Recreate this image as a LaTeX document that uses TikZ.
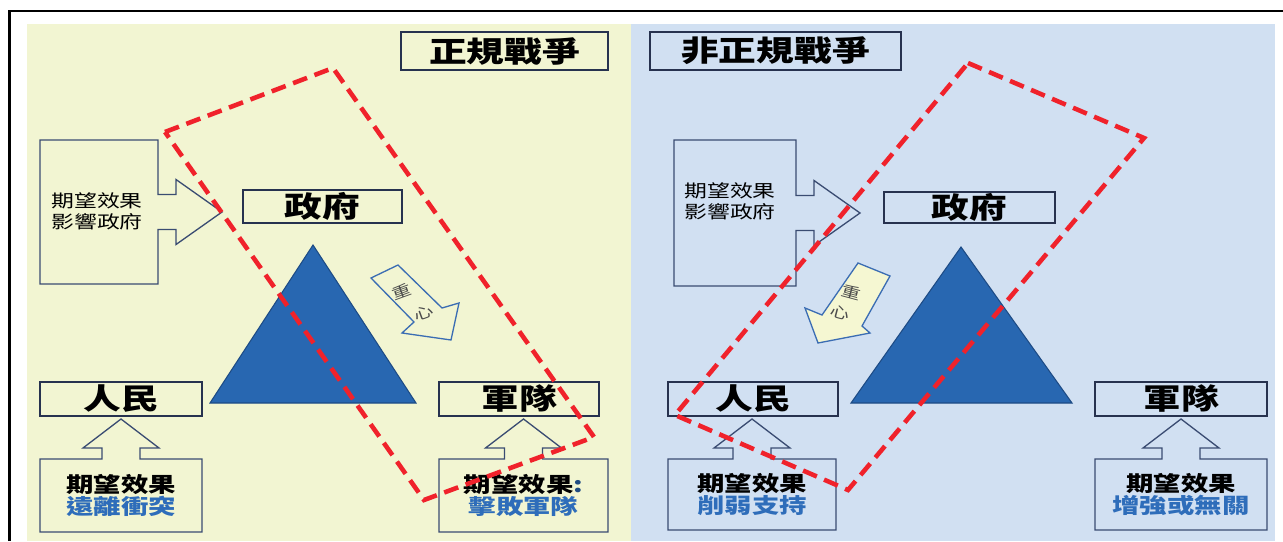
\documentclass[tikz,border=0pt]{standalone}
\usepackage{fontspec}
\setmainfont{Noto Sans CJK TC}[FakeStretch=1.3]
\usepackage{tikz}
\newcommand{\pxu}{0.02cm}
\newcommand{\namefont}{\fontsize{16.5pt}{18pt}\selectfont\bfseries}
\newcommand{\fxfont}{\fontsize{12pt}{13pt}\selectfont\bfseries}
\newcommand{\sidefont}{\fontsize{10pt}{12pt}\selectfont}
\newcommand{\cgfont}{\fontsize{8.5pt}{10pt}\selectfont}
\definecolor{paneyellow}{HTML}{F2F5D2}
\definecolor{paneblue}{HTML}{D1E0F2}
\definecolor{boxline}{HTML}{27324F}
\definecolor{arrowline}{HTML}{3A4C72}
\definecolor{cgline}{HTML}{3B6DB3}
\definecolor{cgfill}{HTML}{F5F7D2}
\definecolor{tribody}{HTML}{2867B1}
\definecolor{triedge}{HTML}{1D4B85}
\definecolor{focusred}{HTML}{F0222B}
\definecolor{fxblue}{HTML}{2E6DBA}
\tikzstyle{namebox}[160]=[draw=boxline, line width=0.85pt, inner sep=0, outer sep=0,
                          minimum width=#1*\pxu, minimum height=34*\pxu, font=\namefont]
\tikzstyle{effectbox}[160]=[inner sep=0, outer sep=0, minimum width=#1*\pxu,
                            minimum height=73*\pxu, align=center, font=\fxfont]
\tikzstyle{sidebox}[120]=[inner sep=0, outer sep=0, minimum width=#1*\pxu, minimum height=144*\pxu]
\tikzstyle{sidetext}=[inner sep=0, align=left, font=\sidefont]
\tikzstyle{callout}=[draw=arrowline, line width=0.75pt, line join=miter]
\tikzstyle{cgarrow}=[draw=cgline, line width=0.75pt]
\tikzstyle{cgtext}=[inner sep=0, font=\cgfont, text=black!70]
\tikzstyle{focus}=[draw=focusred, line width=2.6pt, dash pattern=on 8.5pt off 4.5pt]
\tikzstyle{triangle}=[fill=tribody, draw=triedge, line width=0.6pt]
% box with an arrow on its top side
\newcommand{\upcallout}[1]{%
  \draw[callout] (#1.north) ++(-19,0) -- ++(0,-11) -- ++(-19,0) -- ++(38,-29)
    -- ++(38,29) -- ++(-19,0) -- ++(0,11) -- (#1.north east) -- (#1.south east)
    -- (#1.south west) -- (#1.north west) -- cycle;}
% box with an arrow on its right side
\newcommand{\rightcallout}[1]{%
  \draw[callout] (#1.east) ++(0,-17.5) -- ++(18,0) -- ++(0,-15) -- ++(46,32.5)
    -- ++(-46,32.5) -- ++(0,-15) -- ++(-18,0) -- (#1.south east) -- (#1.south west)
    -- (#1.north west) -- (#1.north east) -- cycle;}
\begin{document}
\begin{tikzpicture}[x=\pxu, y=-\pxu]
    \useasboundingbox (0,0) rectangle (1283,541);
    \fill[paneyellow] (27,24) rectangle (631,541);
    \fill[paneblue] (631,24) rectangle (1275,541);
    \draw[line width=1.2pt] (9.5,541) -- (9.5,11) -- (1283,11);

    % regular war
    \path[triangle] (313,245) -- (416,403) -- (210,403) -- cycle;
    \node[namebox=207, minimum height=38*\pxu] (Ltitle) at (504.5,51) {正規戰爭};
    \node[namebox=159, minimum height=33*\pxu] (Lgov) at (322.5,206.5) {政府};
    \node[namebox=162] (Lpeople) at (121,399) {人民};
    \node[namebox=160] (Larmy) at (519,399) {軍隊};
    \node[effectbox=162] (Lpeoplefx) at (121,495.5) {期望效果\\\textcolor{fxblue}{遠離衝突}};
    \node[effectbox=169] (Larmyfx) at (523.5,495.5) {期望效果\textcolor{fxblue!70!black}{:}\\\textcolor{fxblue}{擊敗軍隊}};
    \node[sidebox=118] (Lgovfx) at (99,212) {};
    \node[sidetext, anchor=west] (Lgovtxt) at (51,211) {期望效果\\影響政府};
    \upcallout{Lpeoplefx}
    \upcallout{Larmyfx}
    \rightcallout{Lgovfx}
    \filldraw[cgarrow, fill=paneyellow] (371,278) -- (398,265) -- (442,308) -- (459,303)
        -- (451,340) -- (402,333) -- (414,322) -- cycle;
    \node[cgtext, rotate=20] (Lcg1) at (402,292) {重};
    \node[cgtext, rotate=20] (Lcg2) at (424,313) {心};
    \path[focus] (165,132) -- (333,68) -- (594,437) -- (424,500) -- cycle;

    % irregular war
    \path[triangle] (961,247) -- (1072,403) -- (851,403) -- cycle;
    \node[namebox=251, minimum height=38*\pxu] (Rtitle) at (775.5,51) {非正規戰爭};
    \node[namebox=171, minimum height=31*\pxu] (Rgov) at (969.5,207.5) {政府};
    \node[namebox=170] (Rpeople) at (753,399) {人民};
    \node[namebox=172] (Rarmy) at (1181,399) {軍隊};
    \node[effectbox=168, minimum height=71*\pxu] (Rpeoplefx) at (752,494.5) {期望效果\\\textcolor{fxblue}{削弱支持}};
    \node[effectbox=172, minimum height=71*\pxu] (Rarmyfx) at (1181,494.5) {期望效果\\\textcolor{fxblue}{增強或無關}};
    \node[sidebox=122, minimum height=146*\pxu] (Rgovfx) at (735,213) {};
    \node[sidetext, anchor=west] (Rgovtxt) at (684,201) {期望效果\\影響政府};
    \upcallout{Rpeoplefx}
    \upcallout{Rarmyfx}
    \rightcallout{Rgovfx}
    \filldraw[cgarrow, fill=cgfill] (858,263) -- (890,276) -- (862,326) -- (870,333)
        -- (818,343) -- (805,308) -- (822,315) -- cycle;
    \node[cgtext, rotate=-15] (Rcg1) at (851,292) {重};
    \node[cgtext, rotate=-15] (Rcg2) at (840,313) {心};
    \path[focus] (968,63) -- (1144,138) -- (848,490) -- (675,415) -- cycle;
\end{tikzpicture}
\end{document}
